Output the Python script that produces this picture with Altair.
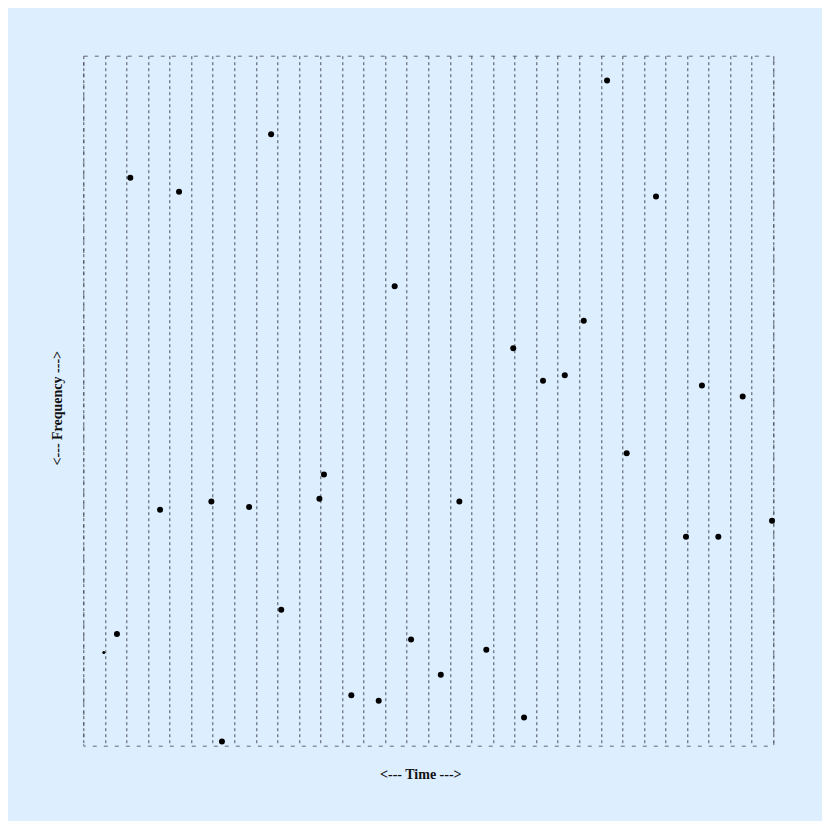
import altair as alt
import pandas as pd

# point data (time slot, frequency)
times = [0.95, 1.56, 2.18, 3.56, 4.44, 5.94, 6.43, 7.69, 8.71, 9.18,
         10.95, 11.16, 12.43, 13.70, 14.44, 15.20, 16.58, 17.44, 18.69, 19.94,
         20.44, 21.32, 22.33, 23.21, 24.29, 25.20, 26.56, 27.95, 28.69, 29.45,
         30.58, 31.94]
freqs = [13.5, 16.2, 82.3, 34.2, 80.3, 35.4, 0.6, 34.6, 88.6, 19.7,
         35.8, 39.3, 7.3, 6.5, 66.6, 15.4, 10.3, 35.4, 13.9, 57.6,
         4.1, 52.9, 53.7, 61.6, 96.4, 42.4, 79.6, 30.3, 52.2, 30.3,
         50.6, 32.6]
grid_slots = list(range(0, 33))

df = pd.DataFrame({"t": times, "f": freqs, "i": list(range(len(times)))})

W, H = 690, 690

points = alt.Chart(df).mark_circle(color="black", opacity=1).encode(
    x=alt.X("t:Q", scale=alt.Scale(domain=[0, 32], nice=False, zero=False),
            axis=alt.Axis(title="<--- Time --->", values=grid_slots, labels=False,
                          ticks=False, domain=False, grid=True,
                          gridColor="#3a3f48", gridDash=[3, 3], gridWidth=1,
                          gridOpacity=0.9,
                          titleFont="Liberation Serif", titleFontSize=14,
                          titleFontWeight="bold", titleColor="#111111",
                          titlePadding=22, titleX=337)),
    y=alt.Y("f:Q", scale=alt.Scale(domain=[0, 100], nice=False),
            axis=alt.Axis(title="<--- Frequency --->", labels=False, ticks=False,
                          domain=False, grid=False,
                          titleFont="Liberation Serif", titleFontSize=14,
                          titleFontWeight="bold", titleColor="#111111",
                          titlePadding=19, titleY=352)),
    size=alt.condition("datum.i == 0", alt.value(9), alt.value(36)),
)

chart = points.properties(
    width=W, height=H,
    autosize=alt.AutoSizeParams(type="none"),
    padding={"left": 75.3, "top": 47.7, "right": 48.7, "bottom": 75.3},
    background="#ddeeff",
).configure_view(
    stroke="#666a70", strokeDash=[4, 7], strokeWidth=1, fill="#ddeeff"
)

chart.save("out.html", embed_options={"renderer": "svg", "actions": False})
